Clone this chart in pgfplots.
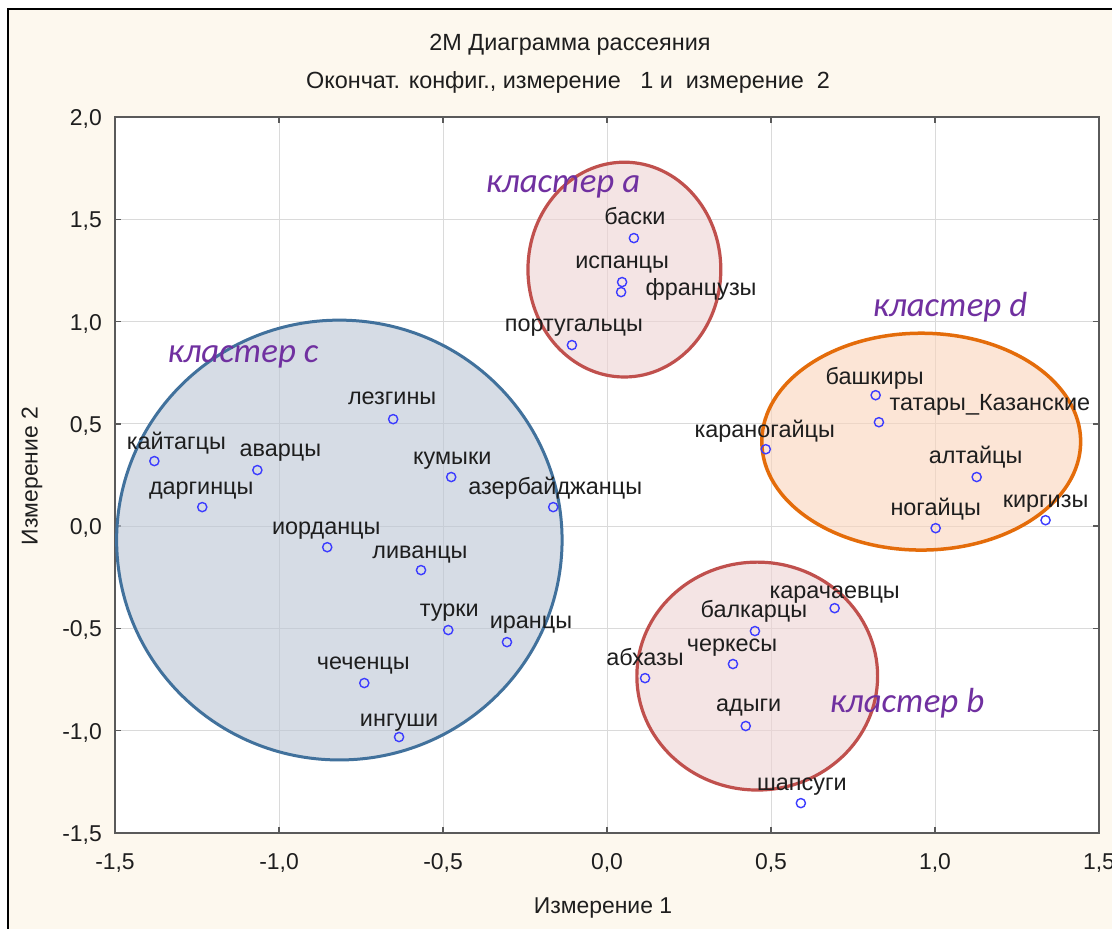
\documentclass[border=0pt]{standalone}
\usepackage{fontspec}
\setmainfont{Liberation Sans}
\newfontfamily\calib{Carlito}
\usepackage{pgfplots}
\usepackage{pgfplotstable}
\pgfplotsset{compat=1.18}

\definecolor{cream}{RGB}{253,248,238}
\definecolor{framegray}{RGB}{90,90,90}
\definecolor{gridgray}{RGB}{218,218,218}
\definecolor{markblue}{RGB}{60,60,255}
\definecolor{txt}{RGB}{30,30,30}
\definecolor{cfill}{RGB}{187,197,212}
\definecolor{afill}{RGB}{238,210,210}
\definecolor{dfill}{RGB}{250,212,187}
\definecolor{cline}{RGB}{65,113,156}
\definecolor{aline}{RGB}{192,80,77}
\definecolor{dline}{RGB}{228,108,10}
\definecolor{purp}{RGB}{112,48,160}

\pgfplotstableread{
x y dx dy label
-1.380 0.318 22 12 кайтагцы
-1.066 0.274 23 14 аварцы
-1.234 0.093 -1 13 даргинцы
-0.652 0.523 -1 15 лезгины
-0.475 0.240 1 13 кумыки
-0.164 0.093 2 13 азербайджанцы
-0.853 -0.103 -1 13 иорданцы
-0.567 -0.215 -1 12 ливанцы
-0.484 -0.508 1 14 турки
-0.305 -0.567 24 14 иранцы
-0.740 -0.767 -1 14 чеченцы
-0.634 -1.031 0 11 ингуши
0.082 1.408 1 14 баски
0.046 1.193 0 14 испанцы
0.043 1.144 80 -3 французы
-0.107 0.885 2 14 португальцы
0.819 0.640 -1 11 башкиры
0.829 0.508 111 12 татары\_Казанские
0.484 0.376 -1 12 караногайцы
1.127 0.240 -1 14 алтайцы
1.002 -0.010 0 13 ногайцы
1.337 0.029 0 13 киргизы
0.694 -0.401 0 10 карачаевцы
0.451 -0.513 -1 14 балкарцы
0.384 -0.674 -1 13 черкесы
0.116 -0.743 0 13 абхазы
0.423 -0.977 3 15 адыги
0.591 -1.354 1 13 шапсуги
}\pts

\begin{document}
\begin{tikzpicture}[x=1bp,y=1bp]
\useasboundingbox (0,0) rectangle (1112,929);
\fill[white] (0,0) rectangle (1112,929);
\fill[cream] (8,0) rectangle (1112,920);
\draw[black, line width=1.5bp] (8,0) -- (8,920) -- (1112,920);

\begin{axis}[
  at={(115bp,96bp)}, anchor=south west,
  scale only axis, width=984bp, height=716bp,
  xmin=-1.5, xmax=1.5, ymin=-1.5, ymax=2.0,
  xtick={-1.5,-1,-0.5,0,0.5,1,1.5},
  ytick={-1.5,-1,-0.5,0,0.5,1,1.5,2},
  /pgf/number format/fixed,
  /pgf/number format/fixed zerofill,
  /pgf/number format/precision=1,
  /pgf/number format/use comma,
  /pgf/number format/assume math mode=true,
  axis background/.style={fill=white},
  grid=major,
  major grid style={line width=0.8bp, draw=gridgray},
  axis line style={line width=2.2bp, draw=framegray},
  tick align=inside,
  major tick length=6bp,
  tick style={line width=1.5bp, draw=framegray},
  xticklabel style={font=\fontsize{23}{27}\selectfont, text=txt, anchor=base, inner sep=0pt, yshift=-37bp},
  yticklabel style={font=\fontsize{23}{27}\selectfont, text=txt, anchor=base east, inner sep=0pt, xshift=-13bp, yshift=-8.5bp},
  clip=false,
]
\fill[cfill, fill opacity=0.6] (axis cs:-0.816,-0.068) ellipse [x radius=0.679, y radius=1.075];
\fill[afill, fill opacity=0.6] (axis cs:0.053,1.254) ellipse [x radius=0.294, y radius=0.525];
\fill[dfill, fill opacity=0.6] (axis cs:0.958,0.413) ellipse [x radius=0.486, y radius=0.530];
\fill[afill, fill opacity=0.6] (axis cs:0.458,-0.733) ellipse [x radius=0.367, y radius=0.557];

\addplot[only marks, mark=o, mark size=4.6bp,
  mark options={draw=markblue, line width=1.4bp},
  visualization depends on={\thisrow{dx}\as\dx},
  visualization depends on={\thisrow{dy}\as\dy},
  point meta=explicit symbolic,
  nodes near coords,
  nodes near coords style={anchor=base, xshift=\dx bp, yshift=\dy bp,
     font=\fontsize{23.5}{27}\selectfont, text=txt, inner sep=0pt},
] table[x=x, y=y, meta=label] {\pts};

\draw[cline, line width=3bp] (axis cs:-0.816,-0.068) ellipse [x radius=0.679, y radius=1.075];
\draw[aline, line width=3.2bp] (axis cs:0.053,1.254) ellipse [x radius=0.294, y radius=0.525];
\draw[dline, line width=3.5bp] (axis cs:0.958,0.413) ellipse [x radius=0.486, y radius=0.530];
\draw[aline, line width=3.2bp] (axis cs:0.458,-0.733) ellipse [x radius=0.367, y radius=0.557];
\end{axis}

\node[font=\calib\itshape\fontsize{35}{40}\selectfont, text=purp] at (563,742) {кластер a};
\node[font=\calib\itshape\fontsize{35}{40}\selectfont, text=purp] at (243,572) {кластер c};
\node[font=\calib\itshape\fontsize{35}{40}\selectfont, text=purp] at (950,622) {кластер d};
\node[font=\calib\itshape\fontsize{35}{40}\selectfont, text=purp] at (907,226) {кластер b};

\node[font=\fontsize{23.5}{27}\selectfont, text=txt] at (570,884) {2M Диаграмма рассеяния};
\node[font=\fontsize{23.5}{27}\selectfont, text=txt] at (568,847) {Окончат. конфиг., измерение\ \ \ 1 и\ \ измерение\ \ 2};
\node[font=\fontsize{23}{27}\selectfont, text=txt] at (603,21) {Измерение 1};
\node[font=\fontsize{23}{27}\selectfont, text=txt, rotate=90] at (32,453) {Измерение 2};
\end{tikzpicture}
\end{document}
